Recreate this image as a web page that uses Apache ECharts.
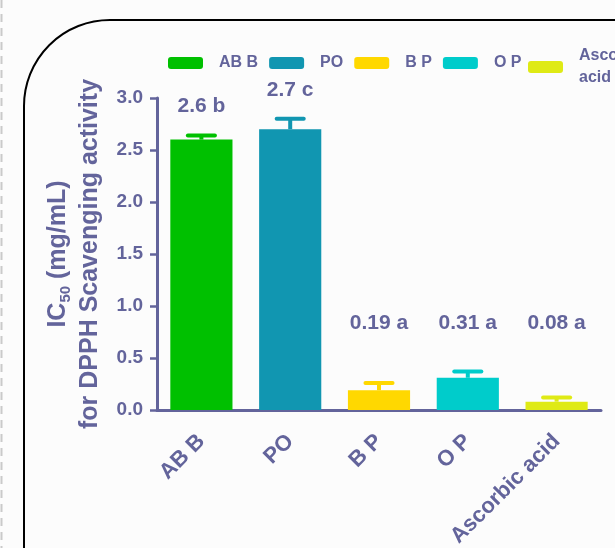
<!DOCTYPE html>
<html>
<head>
<meta charset="utf-8">
<script src="https://cdn.jsdelivr.net/npm/echarts@6.0.0/dist/echarts.min.js"></script>
<style>
  html, body { margin: 0; padding: 0; background: #fcfcfc; }
  #chart { width: 615px; height: 548px; }
</style>
</head>
<body>
<div id="chart"></div>
<script>
// IC50 values for DPPH radical scavenging, one bar per extract
const categories = ['AB B', 'PO', 'B P', 'O P', 'Ascorbic acid'];
const ic50 = [2.6, 2.7, 0.19, 0.31, 0.08];
const sem = [0.04, 0.1, 0.07, 0.06, 0.04];
const groupLetters = ['b', 'c', 'a', 'a', 'a'];
const barColors = ['#00c000', '#1196b1', '#ffd800', '#00cccb', '#dfea15'];

const ink = '#63649b';
const sansBold = { fontFamily: '"Liberation Sans", Arial, sans-serif', fontWeight: 'bold' };
const BAR_RATIO = 0.7;
const LABEL_FLOOR = 0.83; // lowest level for the value/letter annotations

const barSeries = categories.map((name, i) => ({
  type: 'bar',
  name: name,
  barWidth: '70%',
  barGap: '-100%',
  itemStyle: { color: barColors[i] },
  data: categories.map((_, j) => (j === i ? ic50[i] : '-')),
  z: 2
}));

const errorSeries = {
  type: 'custom',
  z: 3,
  data: categories.map((_, i) => [i, ic50[i], sem[i]]),
  renderItem: function (params, api) {
    const idx = api.value(0);
    const val = api.value(1);
    const err = api.value(2);
    const x = api.coord([idx, 0])[0];
    const topY = api.coord([idx, val])[1];
    const capY = api.coord([idx, val + err])[1];
    const capW = api.size([1, 0])[0] * BAR_RATIO / 2;
    const color = barColors[idx];
    const floorY = api.coord([idx, LABEL_FLOOR])[1];
    const labelY = Math.min(capY - 29, floorY);
    return {
      type: 'group',
      children: [
        { type: 'rect', shape: { x: x - 2, y: capY, width: 4, height: topY - capY }, style: { fill: color } },
        { type: 'rect', shape: { x: x - capW / 2, y: capY - 2, width: capW, height: 4, r: 2 }, style: { fill: color } },
        {
          type: 'text',
          style: {
            text: String(ic50[idx]) + ' ' + groupLetters[idx],
            x: x, y: labelY,
            align: 'center', verticalAlign: 'middle',
            font: 'bold 21px "Liberation Sans", Arial, sans-serif',
            fill: ink
          }
        }
      ]
    };
  }
};

const legendText = Object.assign({ fontSize: 16, color: ink, padding: [0, 0, 0, 11] }, sansBold);

const option = {
  animation: false,
  backgroundColor: '#fcfcfc',
  grid: { left: 157, right: 14, top: 98, bottom: 138, containLabel: false, outerBoundsMode: 'none' },
  legend: [
    {
      data: categories.slice(0, 4),
      left: 168, top: 55, padding: 0,
      itemWidth: 35, itemHeight: 12, itemGap: 11,
      icon: 'roundRect',
      selectedMode: false,
      textStyle: legendText
    },
    {
      data: categories.slice(4),
      left: 528, top: 34, padding: 0,
      itemWidth: 35, itemHeight: 12,
      icon: 'roundRect',
      selectedMode: false,
      formatter: () => 'Ascorbic\nacid',
      textStyle: Object.assign({}, legendText, { lineHeight: 22, padding: [22, 0, 0, 11] })
    }
  ],
  xAxis: {
    type: 'category',
    data: categories,
    axisLine: { lineStyle: { color: ink, width: 3 } },
    axisTick: { alignWithLabel: true, length: 8, lineStyle: { color: ink, width: 2.5 } },
    axisLabel: Object.assign({ rotate: 45, margin: 28, fontSize: 22, color: ink, interval: 0 }, sansBold),
    splitLine: { show: false }
  },
  yAxis: {
    type: 'value',
    min: 0, max: 3, interval: 0.5,
    axisLine: { show: true, lineStyle: { color: ink, width: 3 } },
    axisTick: { show: true, length: 7, lineStyle: { color: ink, width: 2.5 } },
    axisLabel: Object.assign({ margin: 14, fontSize: 19, color: ink, formatter: v => v.toFixed(1) }, sansBold),
    splitLine: { show: false },
    name: '{t|IC}{s|50}{t| (mg/mL)}\n{t|for DPPH Scavenging activity}',
    nameLocation: 'middle',
    nameRotate: 90,
    nameGap: 45,
    nameTextStyle: Object.assign({
      color: ink, fontSize: 25, lineHeight: 32,
      rich: {
        t: Object.assign({ color: ink, fontSize: 25, lineHeight: 32 }, sansBold),
        s: Object.assign({ color: ink, fontSize: 15, lineHeight: 18, verticalAlign: 'bottom' }, sansBold)
      }
    }, sansBold)
  },
  graphic: [
    {
      type: 'line', silent: true, z: 0,
      shape: { x1: 1.5, y1: 0, x2: 1.5, y2: 548 },
      style: { stroke: '#cacaca', lineWidth: 2, lineDash: [8, 6] }
    },
    {
      type: 'rect', silent: true, z: 0,
      shape: { x: 24, y: 20, width: 760, height: 760, r: 86 },
      style: { fill: 'none', stroke: '#000', lineWidth: 2 }
    }
  ],
  series: barSeries.concat([errorSeries])
};

const chart = echarts.init(document.getElementById('chart'), null, { renderer: 'canvas' });
chart.setOption(option);
</script>
</body>
</html>
